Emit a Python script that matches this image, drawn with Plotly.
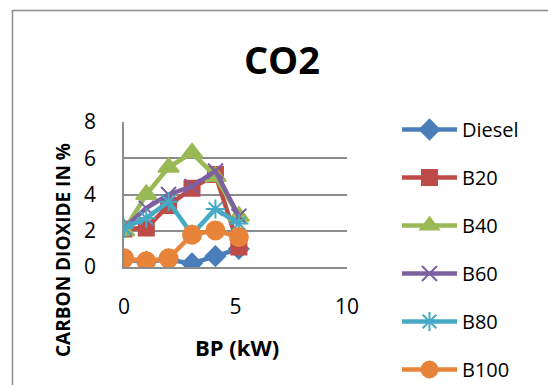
import plotly.graph_objects as go

bp = [0, 1, 2, 3.05, 4.1, 5.15]
diesel = [0.4, 0.3, 0.4, 0.2, 0.6, 1.0]
b20 = [2.1, 2.15, 3.4, 4.35, 5.1, 1.1]
b40 = [2.0, 4.0, 5.5, 6.3, 5.0, 2.8]
b60 = [2.15, 3.25, 4.0, 4.45, 5.3, 2.8]
b80 = [2.15, 2.7, 3.6, 1.8, 3.2, 2.4]
b100 = [0.48, 0.32, 0.48, 1.78, 2.02, 1.65]

series = [
    ("Diesel", diesel, "#4a7ebb", "diamond", 15),
    ("B20", b20, "#be4b48", "square", 15),
    ("B40", b40, "#98b954", "triangle-up", 18),
    ("B60", b60, "#7d60a0", "x-thin", 15),
    ("B80", b80, "#46aac5", "asterisk", 16),
    ("B100", b100, "#e8843a", "circle", 18),
]

fig = go.Figure()
for name, ys, color, sym, size in series:
    fig.add_trace(go.Scatter(
        x=bp, y=ys, name=name, mode="lines+markers", legendgroup=name,
        line=dict(color=color, width=4.5),
        marker=dict(symbol=sym, size=size, color=color,
                    line=dict(color=color, width=2)),
    ))

W, H = 548, 385
L, R, T, B = 124, 201, 122, 118
pw, ph = W - L - R, H - T - B

def px(xp):
    return (xp - L) / pw

def py(yp):
    return (H - B - yp) / ph

font = "Open Sans"
fig.update_layout(
    width=W, height=H,
    margin=dict(l=L, r=R, t=T, b=B, autoexpand=False),
    paper_bgcolor="white", plot_bgcolor="white",
    font=dict(family=font, color="black", size=20),
    title=dict(text="<b>CO2</b>", x=282 / W, xanchor="center",
               y=1 - 61 / H, yanchor="middle", yref="container",
               font=dict(size=38, family=font)),
    xaxis=dict(range=[0, 10], dtick=5, showgrid=False, zeroline=False,
               showline=True, linecolor="#8c8c8c", linewidth=1.5,
               ticks="outside", ticklen=20, tickcolor="rgba(0,0,0,0)",
               tickfont=dict(size=21)),
    yaxis=dict(range=[0, 8], dtick=2, showgrid=True, gridcolor="#8c8c8c",
               gridwidth=1.5, zeroline=False, showline=True,
               linecolor="#8c8c8c", linewidth=1.5,
               ticks="outside", ticklen=22, tickcolor="rgba(0,0,0,0)",
               tickfont=dict(size=21)),
    legend=dict(x=px(397), xanchor="left", y=py(110), yanchor="top",
                font=dict(size=20), tracegroupgap=19, itemwidth=55,
                bgcolor="rgba(0,0,0,0)", maxheight=600),
    showlegend=True,
)

fig.add_annotation(text="<b>BP (kW)</b>", x=px(236.5), y=py(347),
                   xref="paper", yref="paper", showarrow=False,
                   font=dict(size=22, family=font), xanchor="center",
                   yanchor="middle")
fig.add_annotation(text="<b>CARBON DIOXIDE IN %</b>", x=px(63), y=py(250),
                   xref="paper", yref="paper", showarrow=False,
                   textangle=-90, font=dict(size=19, family=font),
                   xanchor="center", yanchor="middle")

fig.add_shape(type="rect", xref="paper", yref="paper",
              x0=px(12.5), x1=px(700), y0=py(600), y1=py(10.5),
              line=dict(color="#8c8c8c", width=1.5), fillcolor="rgba(0,0,0,0)",
              layer="below")

fig.write_html("out.html")
